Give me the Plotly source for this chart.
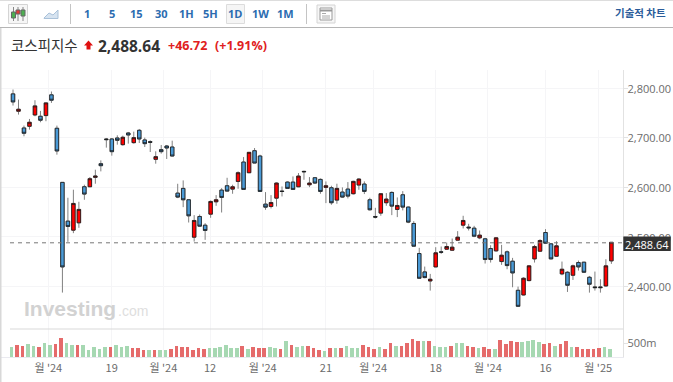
import plotly.graph_objects as go

W, H = 673, 382

opens = [2788.2,2753.2,2719.4,2722.8,2745.7,2743.0,2744.4,2786.2,2718.8,2609.6,
2531.4,2513.2,2528.0,2600.8,2600.8,2619.7,2647.3,2697.2,2697.2,2699.2,
2685.7,2709.3,2689.8,2714.7,2695.2,2691.8,2656.1,2675.6,2683.0,2681.0,
2587.9,2597.4,2574.5,2499.0,2540.8,2523.2,2545.5,2570.4,2594.0,2602.8,
2596.0,2611.5,2650.6,2629.1,2673.5,2662.8,2565.7,2561.0,2577.8,2592.0,
2610.2,2610.2,2600.7,2631.8,2604.8,2619.0,2615.6,2599.4,2598.8,2573.8,
2590.0,2596.1,2586.7,2604.2,2606.2,2574.5,2540.8,2547.6,2568.5,2589.3,
2555.0,2584.6,2559.7,2526.7,2466.0,2428.9,2410.7,2439.0,2469.4,2474.8,
2472.7,2493.0,2523.3,2519.3,2517.2,2497.7,2495.7,2476.1,2471.4,2449.8,
2469.4,2450.5,2391.8,2382.4,2411.4,2455.2,2470.7,2508.4,2485.5,2460.6,
2424.9,2428.2,2422.2,2447.8,2448.5,2418.1,2398.6,2398.6,2400.6,2451.2]
closes = [2772.0,2757.2,2708.7,2730.9,2763.9,2735.0,2770.0,2775.4,2673.0,2439.0,
2520.6,2567.1,2555.0,2586.0,2617.0,2622.4,2643.3,2695.9,2671.6,2694.5,
2700.6,2705.3,2699.9,2697.2,2687.8,2690.5,2661.5,2671.6,2679.0,2662.8,
2579.9,2574.5,2542.1,2532.7,2521.2,2512.5,2571.1,2574.5,2579.2,2592.0,
2600.7,2629.1,2595.4,2670.2,2648.6,2591.3,2559.6,2569.0,2608.2,2591.3,
2597.4,2595.4,2622.3,2631.1,2608.2,2608.2,2591.3,2602.8,2568.5,2597.4,
2579.9,2581.9,2611.6,2616.3,2591.4,2554.3,2539.5,2586.7,2575.9,2561.7,
2563.0,2559.7,2529.4,2480.8,2416.1,2417.5,2414.1,2467.4,2468.7,2480.2,
2478.8,2499.0,2532.7,2517.9,2501.0,2503.1,2453.9,2453.9,2497.7,2462.6,
2441.7,2426.9,2359.5,2416.1,2441.1,2480.1,2492.3,2486.9,2455.2,2481.5,
2434.3,2402.0,2441.1,2439.0,2428.2,2404.0,2397.2,2397.2,2441.1,2488.64]
highs = [2797.0,2776.7,2724.2,2737.6,2775.4,2753.8,2770.0,2793.0,2724.2,2609.6,
2578.6,2594.8,2570.5,2604.9,2620.4,2635.2,2654.0,2699.2,2699.2,2704.6,
2703.9,2711.4,2712.0,2717.4,2699.9,2694.5,2672.3,2685.1,2685.1,2693.8,
2606.8,2613.6,2574.5,2543.5,2544.8,2527.3,2573.1,2583.9,2598.0,2618.9,
2604.8,2631.8,2660.7,2670.2,2678.9,2665.4,2590.0,2583.9,2609.5,2601.4,
2611.5,2621.6,2628.4,2633.1,2620.3,2620.3,2617.6,2611.5,2602.8,2606.9,
2599.5,2610.2,2612.9,2617.7,2611.6,2578.6,2558.3,2588.0,2588.0,2591.4,
2579.2,2592.0,2561.0,2531.4,2477.5,2439.7,2424.9,2478.8,2480.2,2488.2,
2496.3,2511.2,2542.2,2526.0,2521.9,2512.5,2497.7,2482.8,2499.0,2483.5,
2472.1,2457.2,2399.3,2418.1,2441.7,2483.5,2495.0,2515.2,2486.9,2490.9,
2449.8,2430.3,2443.7,2451.8,2449.1,2420.8,2429.6,2414.1,2454.5,2488.64]
lows = [2764.6,2746.4,2702.6,2716.1,2743.0,2730.9,2733.0,2770.0,2665.5,2387.2,
2489.6,2507.1,2517.9,2574.5,2600.2,2606.9,2631.8,2679.7,2663.5,2685.7,
2683.7,2687.8,2687.8,2689.1,2681.0,2670.9,2647.3,2667.6,2656.8,2662.1,
2577.8,2559.6,2528.6,2490.2,2520.5,2493.6,2538.1,2562.3,2548.8,2591.3,
2586.6,2596.7,2595.4,2628.4,2648.6,2591.3,2554.2,2557.0,2561.0,2581.2,
2596.7,2594.7,2600.0,2614.9,2600.0,2606.8,2586.6,2567.7,2564.4,2566.4,
2578.6,2577.2,2585.3,2594.7,2586.0,2552.9,2536.8,2542.2,2562.4,2543.5,
2539.5,2553.0,2527.3,2480.2,2415.5,2416.1,2391.2,2438.4,2465.3,2473.4,
2472.1,2492.3,2516.6,2512.5,2499.0,2495.0,2445.8,2447.8,2470.0,2443.1,
2434.3,2397.9,2358.8,2381.7,2410.0,2447.8,2469.4,2485.5,2454.5,2459.9,
2422.2,2388.5,2412.7,2431.6,2426.9,2387.1,2391.2,2387.1,2399.3,2445.1]
volumes = [384,444,420,468,420,360,504,444,480,708,504,444,444,444,252,360,288,360,360,444,
384,420,324,324,252,252,252,252,252,288,420,360,360,252,324,288,324,
324,360,444,324,324,420,288,384,324,324,384,324,288,576,444,384,420,420,324,252,
228,324,324,324,420,324,324,444,384,288,360,288,504,420,420,504,672,576,
576,576,420,384,384,420,504,504,420,384,324,360,288,288,612,480,576,540,540,576,
612,540,480,504,420,480,576,384,360,288,288,288,324,384,288]
vol_dirs = list("GRRGGRGGRRGGRGGGGGRGGGRRRGRGGRRRRRRRG"
                "GGGGGRGRRRGGRGRGGRRRGRGRGGGRRRGRRGRRRR"
                "GRGGGRGGRRGRRGRRRRGGGGRRGRRGRRRRRGG")
xs = list(range(len(opens)))
tick_positions = [6.43, 17.98, 27.38, 35.9, 45.5, 57.0, 65.6, 77.0, 86.5, 97.0, 106.6]
tick_labels = ["월 '24", "19", "월 '24", "12", "월 '24", "21", "월 '24", "18", "월 '24", "16", "월 '25"]
price_ticks = [2400, 2500, 2600, 2700, 2800]
last_price = 2488.64
intervals = [("1", 87), ("5", 112), ("15", 136.5), ("30", 161), ("1H", 186), ("5H", 210.5),
             ("1D", 235), ("1W", 260), ("1M", 285)]

FONT = "Open Sans, Liberation Sans, Arial"
KR = "Noto Sans CJK KR, Open Sans"

def px(x): return x / W
def py(y): return 1 - y / H

def rect(x0, y0, x1, y1, fill=None, line=None, lw=1, layer="above"):
    return dict(type="rect", xref="paper", yref="paper", x0=px(x0), x1=px(x1), y0=py(y0), y1=py(y1),
                fillcolor=fill or "rgba(0,0,0,0)", line=dict(color=line or "rgba(0,0,0,0)", width=lw if line else 0),
                layer=layer)

def seg(x0, y0, x1, y1, color, lw=1, dash="solid", layer="above"):
    return dict(type="line", xref="paper", yref="paper", x0=px(x0), x1=px(x1), y0=py(y0), y1=py(y1),
                line=dict(color=color, width=lw, dash=dash), layer=layer)

def text(x, y, s, size, color, anchor="left", bold=False, family=FONT, bg=None):
    return dict(xref="paper", yref="paper", x=px(x), y=py(y), text=f"<b>{s}</b>" if bold else s, showarrow=False,
                xanchor=anchor, yanchor="middle", font=dict(size=size, color=color, family=family),
                bgcolor=bg, borderpad=0)

fig = go.Figure()
body_top = [max(a, b) for a, b in zip(opens, closes)]
body_bot = [min(a, b) for a, b in zip(opens, closes)]
fig.add_trace(go.Candlestick(
    x=xs, open=opens, high=highs, low=lows, close=closes, whiskerwidth=0,
    increasing=dict(line=dict(color="#808080", width=1), fillcolor="#808080"),
    decreasing=dict(line=dict(color="#808080", width=1), fillcolor="#808080"),
    hoverinfo="skip", showlegend=False, xaxis="x", yaxis="y"))
fig.add_trace(go.Candlestick(
    x=xs, open=opens, high=body_top, low=body_bot, close=closes, whiskerwidth=0,
    increasing=dict(line=dict(color="#1a1a1a", width=0.8), fillcolor="#ff0000"),
    decreasing=dict(line=dict(color="#1a1a1a", width=0.8), fillcolor="#4a9ad6"),
    hoverinfo="skip", showlegend=False, xaxis="x", yaxis="y"))
fig.add_trace(go.Bar(
    x=xs, y=volumes, width=0.66, offset=-0.57,
    marker=dict(color=["#e56b6b" if d == "R" else "#a6d8b2" for d in vol_dirs], line=dict(width=0)),
    hoverinfo="skip", showlegend=False, xaxis="x", yaxis="y2"))

shapes = [
    rect(0, 0, 673, 27.5, fill="#ffffff", layer="below"),
    seg(0, 0.5, 673, 0.5, "#dddddd"),
    seg(0, 27.5, 673, 27.5, "#b5b5b5"),
    rect(0, 28, 1.5, 382, fill="#d8d8d8"),
    seg(70.5, 4, 70.5, 24, "#c4c4c4"),
    seg(306.5, 4, 306.5, 24, "#c4c4c4"),
    # chart-type icon
    rect(8.5, 4.5, 27.5, 23.5, fill="#f6f6f6", line="#d4d4d4"),
    seg(13.5, 7, 13.5, 21, "#888888"),
    seg(18, 7, 18, 21, "#888888"),
    seg(23, 7, 23, 21, "#888888"),
    rect(11.5, 12, 15.5, 18, fill="#4caf50", line="#666666"),
    rect(16, 10, 20, 14, fill="#e53935", line="#666666"),
    rect(21, 10, 25, 16, fill="#4caf50", line="#666666"),
    # area icon
    dict(type="path", xref="paper", yref="paper", layer="above",
         path=f"M {px(44)},{py(18)} L {px(49)},{py(13)} L {px(53)},{py(15)} L {px(58)},{py(10)} "
              f"L {px(58)},{py(18.5)} L {px(44)},{py(18.5)} Z",
         fillcolor="#d6e3f0", line=dict(color="#a9c1d9", width=1)),
    # active interval
    rect(226.5, 4.5, 244.5, 23.5, fill="#f5f5f5", line="#dcdcdc", layer="below"),
    # layout icon
    rect(317, 5, 335, 23, fill="#f6f6f6", line="#d4d4d4"),
    rect(320, 8, 332, 20, fill="#ffffff", line="#9a9a9a"),
    seg(320, 10.5, 332, 10.5, "#9a9a9a", 2),
    seg(322, 13.5, 326, 13.5, "#aaaaaa"),
    seg(322, 16, 330, 16, "#aaaaaa"),
    seg(322, 18, 330, 18, "#aaaaaa"),
    # header arrow
    dict(type="path", xref="paper", yref="paper", layer="above",
         path=f"M {px(88.5)},{py(40.5)} L {px(93)},{py(45.5)} L {px(90.5)},{py(45.5)} L {px(90.5)},{py(49.5)} "
              f"L {px(86.5)},{py(49.5)} L {px(86.5)},{py(45.5)} L {px(84)},{py(45.5)} Z",
         fillcolor="#e01010", line=dict(width=0)),
    # price / volume divider
    seg(10, 329, 623.3, 329, "#d9d9d9", 1.2),
    # last-price line
    dict(type="line", xref="paper", yref="y", x0=px(10), x1=px(623.3), y0=last_price - 1, y1=last_price - 1,
         line=dict(color="#777777", width=1, dash="4px,4px"), layer="above"),
    # last-price box
    rect(623.3, 236.5, 670.8, 251, fill="#333333"),
]

annotations = [
    text(px_x, 13.5, lab, 11, "#2b6cb0", "center", True) for lab, px_x in intervals
] + [
    text(667, 12.5, "<b>기술적 차트</b>", 10.5, "#2a5c9a", "right", False, KR),
    text(10, 45, "코스피지수", 14.5, "#333333", "left", False, KR),
    text(96.5, 46, "2,488.64", 15.5, "#333333", "left", True),
    text(167, 46, "<b>+46.72</b>", 12.5, "#e02020"),
    text(214.5, 46, "<b>(+1.91%)</b>", 12.5, "#e02020"),
    text(22.5, 308, "Investing", 21, "#d2d2d2", "left", True, "Liberation Sans"),
    text(117, 311, ".com", 14, "#dedede", "left", False, "Liberation Sans"),
    text(647, 244, "2,488.64", 11, "#ffffff", "center"),
]

fig.update_layout(
    width=W, height=H, autosize=False, margin=dict(l=0, r=0, t=0, b=0),
    paper_bgcolor="#ffffff", plot_bgcolor="#ffffff", boxgap=0.1, bargap=0,
    font=dict(family=FONT, size=11, color="#6b6b6b"), showlegend=False,
    shapes=shapes, annotations=annotations,
    xaxis=dict(domain=[0, px(623.3)], range=[-2.368, 111.17], anchor="y2", rangeslider=dict(visible=False),
               tickmode="array", tickvals=tick_positions, ticktext=tick_labels,
               showgrid=True, gridcolor="#f5f5f7", gridwidth=1, zeroline=False,
               showline=True, linecolor="#eaeaf0", ticks="", tickfont=dict(size=11, color="#6b6b6b", family=KR)),
    yaxis=dict(domain=[py(329), py(69.5)], range=[2313.7, 2837.4], side="right", anchor="x",
               tickmode="array", tickvals=price_ticks, tickformat=",.2f", ticklabelstandoff=-3, ticklabelshift=1,
               showgrid=True, gridcolor="#f5f5f7", zeroline=False, showline=True, linecolor="#e2e2e2",
               ticks="outside", ticklen=4, tickcolor="#e2e2e2", tickfont=dict(size=11, color="#6b6b6b")),
    yaxis2=dict(domain=[py(357.3), py(329)], range=[0, 1019], side="right", anchor="x",
                tickmode="array", tickvals=[504], ticktext=["500m"], ticklabelstandoff=-3,
                showgrid=False, zeroline=False, showline=True, linecolor="#e2e2e2",
                ticks="outside", ticklen=4, tickcolor="#e2e2e2", tickfont=dict(size=11, color="#6b6b6b")),
)

fig.write_html("out.html", config=dict(displayModeBar=False), post_script="document.body.style.margin='0';document.body.style.overflow='hidden';")
